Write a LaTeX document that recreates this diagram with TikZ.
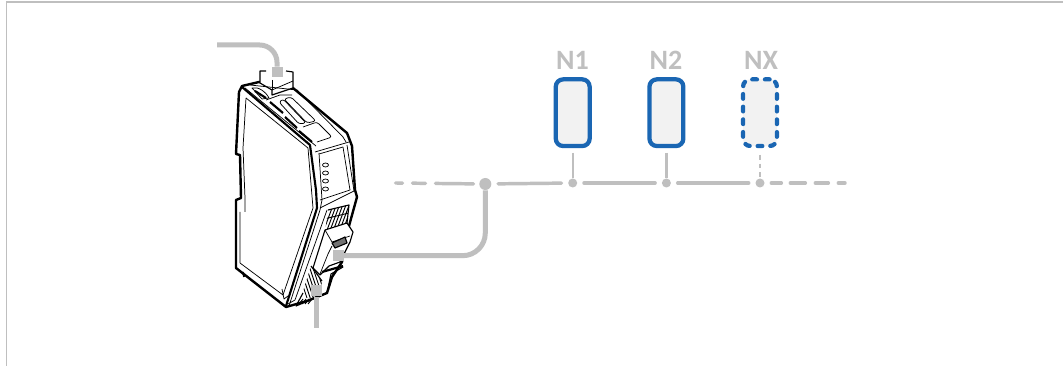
\documentclass[tikz,border=0pt]{standalone}
\usepackage{fontspec}
\setmainfont{Carlito}
\definecolor{blue1}{HTML}{1A66B3}
\definecolor{grey1}{HTML}{BFBFBF}
\tikzset{
  x=0.75pt,y=-0.75pt,
  frameline/.style={draw=grey1,line width=0.9pt},
  wire/.style={draw=grey1,line width=3.75pt},
  busline/.style={draw=grey1,line width=2.6pt,line cap=round},
  stub/.style={draw=grey1,line width=1.8pt},
  joint/.style={circle,fill=grey1,inner sep=0pt},
  plug/.style={fill=grey1,inner sep=0pt,minimum width=8.25pt,minimum height=7.8pt},
  nodebox/.style={draw=blue1,fill=black!5,line width=3.2pt,rounded corners=5.5pt,minimum width=25.4pt,minimum height=50pt,inner sep=0pt},
  nodelabel/.style={text=grey1,font=\bfseries\fontsize{21}{24}\selectfont,inner sep=0pt},
  body/.style={draw=black,line width=1.8pt,line join=round,fill=white},
  thick1/.style={draw=black,line width=1.6pt,line join=round},
  thin1/.style={draw=black,line width=0.55pt,line join=round},
  mid/.style={draw=black,line width=0.85pt,line join=round},
  hatch/.style={draw=black,line width=0.7pt},
}
\begin{document}
\begin{tikzpicture}
\useasboundingbox (0,0) rectangle (1063,366);
\fill[white] (0,0) rectangle (1063,366);
\coordinate (fa) at (6.5,366); \coordinate (fb) at (6.5,2); \coordinate (fc) at (1063,2);
\draw[frameline] (fa)--(fb)--(fc);

% device outline
\draw[body] (242,86) -- (259,82) -- (293,88) -- (347,133) -- (352,146) -- (355,190) -- (357,197) -- (349,226) -- (342,262) -- (332,277) -- (327,293) -- (307,301) -- (286,307) -- (236,268) -- (236,200) -- (241,198) -- (240,155) -- (236,154) -- (239,92) -- cycle;
% notch of the rail clip
\fill[white] (242,200) -- (245,204) -- (243,212) -- (240,210) -- cycle;
% top connector
\draw[mid,fill=white] (266,71) -- (260,71) -- (260,83) -- (272,90) -- (272,95) -- (293,88) -- (293,72) -- (286,71);
\draw[thin1] (272,90) -- (293,81);
\draw[thin1] (272,80) -- (272,90);
% thick front edge and its companions
\draw[thick1] (242,87) -- (310,145) -- (316,190) -- (317,208) -- (286,306);
\draw[thin1] (246,98) -- (308,148) -- (313,208) -- (283,295) -- (240,263) -- (240,212);
\draw[thin1] (246,98) -- (243,148) -- (245,198) -- (245,212);
\draw[thin1] (319,153) -- (322,200) -- (320,210) -- (289,306);
\draw[thin1] (327,210) -- (295,300) -- (288,304);
% top face
\draw[thin1] (250,85) -- (297,90) -- (343,137) -- (346,142);
\draw[thin1] (245,88) -- (316,146);
\draw[thick1] (255,91) -- (266,98);
\draw[thick1] (270,102) -- (283,113);
\draw[thick1] (285,117) -- (297,128);
\draw[thick1] (299,131) -- (312,142);
\draw[thin1] (252,88) .. controls (258,86) and (266,92) .. (269,98) -- (262,99) -- cycle;
\draw[thin1] (266,100) -- (280,95) -- (292,95);
\draw[thin1,rounded corners=2pt] (284,99) -- (291,97) -- (316,121) -- (307,123) -- cycle;
\draw[thin1,rounded corners=2pt] (279,102) -- (283,99) -- (306,123) -- (299,124) -- cycle;
\draw[thin1,rounded corners=2pt] (303,127) -- (317,122) -- (332,137) -- (317,142);
% front panel
\draw[thin1] (315,152) -- (349,142);
\draw[thin1] (319,154) -- (343,147);
\draw[thin1] (343,147) -- (350,190) -- (320,200);
\draw[thin1] (347,145) -- (354,191) -- (320,208);
% LEDs
\foreach \ya in {165,173,181,189}{\draw[thin1] (325.5,\ya) ellipse [x radius=3,y radius=2];}
% upper port
\begin{scope}
\clip (328,210) -- (349,205) -- (347,223) -- (325,232) -- cycle;
\foreach \k in {0,...,9}{\draw[hatch] ({322+\k*3.2},235) -- ({335+\k*3.2},200);}
\draw[hatch] (324,219) -- (349,213);
\end{scope}
\draw[mid] (328,210) -- (349,205) -- (347,223);
% right connector
\draw[mid,fill=white] (325,230) -- (347,223) -- (353,232) -- (350,242) -- (346,250) -- (340,262) -- (329,266) -- (320,275) -- (313,268) -- cycle;
\draw[thin1] (325,230) -- (332,242) -- (350,236);
\draw[mid,fill=black!55] (332,243) -- (345,237) -- (347,243) -- (335,248) -- cycle;
\draw[thin1] (332,246) -- (328,254) -- (320,274);
\draw[thick1] (322,272) -- (343,266);
\draw[mid] (343,267) -- (331,274) -- (327,293);
% lower port
\begin{scope}
\clip (311,266) -- (322,282) -- (318,298) -- (302,298) -- (304,288) -- cycle;
\foreach \k in {0,...,9}{\draw[hatch] ({297+\k*3.2},268) -- ({309+\k*3.2},304);}
\end{scope}
\draw[mid] (311,266) -- (322,281);
\draw[mid] (303,293) -- (296,306) -- (327,293);
\foreach \k in {0,...,3}{\draw[hatch] ({299+\k*3},304) -- ({303+\k*3},299);}
\draw[thin1] (282,289) -- (284,299) -- (288,296);
% foot on the lower left
\draw[line width=1.3pt] (243,272) -- (244,277);

% wires
\coordinate (top1) at (217,45);
\node[plug] (ptop) at (277,72) {};
\draw[wire,rounded corners=13pt] (top1) -- (277,45) -- (ptop);
\node[plug] (pright) at (338,255.7) {};
\node[joint,minimum size=9pt] (j0) at (485.3,184) {};
\draw[wire,rounded corners=17pt] (pright) -- (485.3,255.7) -- (j0);
\node[plug,minimum height=8.25pt] (pbot) at (316,291) {};
\coordinate (bot1) at (316,328);
\draw[wire] (pbot) -- (bot1);

% nodes
\node[nodebox] (n1) at (572.7,112.7) {};
\node[nodebox] (n2) at (666.4,112.7) {};
\node[nodebox,line cap=round,dash pattern=on 3.5pt off 6pt] (nx) at (760,112.7) {};
\node[nodelabel] (l1) at (572.5,60) {N1};
\node[nodelabel] (l2) at (666,60) {N2};
\node[nodelabel] (lx) at (761,60) {NX};
\node[joint,minimum size=6.75pt] (j1) at (572.7,183) {};
\node[joint,minimum size=6.75pt] (j2) at (666.4,183) {};
\node[joint,minimum size=6.75pt] (j3) at (760,183) {};
\coordinate (s1) at (572.7,153);\coordinate (s2) at (666.4,153);\coordinate (s3) at (760,155);
\draw[stub] (s1) -- (j1);
\draw[stub] (s2) -- (j2);
\draw[stub,dash pattern=on 3.5pt off 3pt] (s3) -- (j3);
% bus
\coordinate (b0) at (395.5,183);\coordinate (b9) at (845,183);
\draw[busline,dash pattern=on 5.25pt off 7.5pt on 9.75pt off 7.5pt on 28.5pt off 100pt] (b0) -- (j0);
\draw[busline,shorten <=4.9pt,shorten >=4.9pt] (j0) -- (j1);
\draw[busline,shorten <=4.9pt,shorten >=4.9pt] (j1) -- (j2);
\draw[busline,shorten <=4.9pt,shorten >=4.9pt] (j2) -- (j3);
\draw[busline,dash pattern=on 7.5pt off 6.75pt on 11.25pt off 7.5pt on 9.75pt off 7.5pt on 6pt off 100pt,shorten <=4.9pt] (j3) -- (b9);
\end{tikzpicture}
\end{document}
